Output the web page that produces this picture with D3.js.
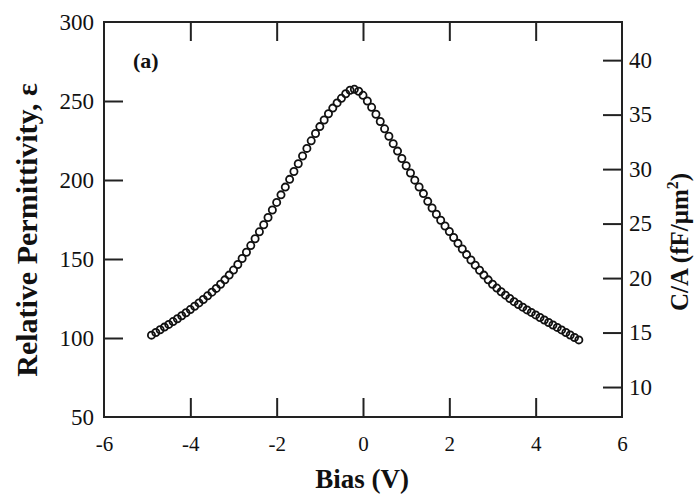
<!DOCTYPE html>
<html>
<head>
<meta charset="utf-8">
<script src="https://cdn.jsdelivr.net/npm/d3@7"></script>
<style>
  html, body { margin: 0; padding: 0; background: #fff; }
  svg { display: block; }
  .tick text { font-family: "Liberation Serif", "DejaVu Serif", serif; fill: #111; }
  .axisTitle { font-family: "Liberation Serif", "DejaVu Serif", serif; font-weight: bold; fill: #111; }
</style>
</head>
<body>
<svg id="chart" width="697" height="495"></svg>
<script>
// bias sweep (V)
const biasV = [
  -4.9, -4.8, -4.7, -4.6, -4.5, -4.4, -4.3, -4.2, -4.1, -4.0,
  -3.9, -3.8, -3.7, -3.6, -3.5, -3.4, -3.3, -3.2, -3.1, -3.0,
  -2.9, -2.8, -2.7, -2.6, -2.5, -2.4, -2.3, -2.2, -2.1, -2.0,
  -1.9, -1.8, -1.7, -1.6, -1.5, -1.4, -1.3, -1.2, -1.1, -1.0,
  -0.9, -0.8, -0.7, -0.6, -0.5, -0.4, -0.3, -0.2, -0.1, 0.0,
  0.1, 0.2, 0.3, 0.4, 0.5, 0.6, 0.7, 0.8, 0.9, 1.0,
  1.1, 1.2, 1.3, 1.4, 1.5, 1.6, 1.7, 1.8, 1.9, 2.0,
  2.1, 2.2, 2.3, 2.4, 2.5, 2.6, 2.7, 2.8, 2.9, 3.0,
  3.1, 3.2, 3.3, 3.4, 3.5, 3.6, 3.7, 3.8, 3.9, 4.0,
  4.1, 4.2, 4.3, 4.4, 4.5, 4.6, 4.7, 4.8, 4.9, 5.0
];
// relative permittivity
const permittivity = [
  101.8, 103.5, 105.2, 106.9, 108.6, 110.4, 112.2, 114.1, 116.0, 118.0,
  120.1, 122.2, 124.4, 126.7, 129.0, 131.4, 134.0, 136.8, 139.8, 143.0,
  146.5, 150.3, 154.3, 158.5, 162.8, 167.2, 171.7, 176.3, 181.0, 185.8,
  190.6, 195.5, 200.4, 205.4, 210.3, 215.2, 220.0, 224.8, 229.4, 233.8,
  238.0, 241.9, 245.5, 248.8, 251.7, 254.6, 256.8, 257.4, 256.2, 253.6,
  250.0, 246.0, 241.6, 237.0, 232.4, 227.7, 223.0, 218.3, 213.6, 209.0,
  204.4, 199.9, 195.6, 191.4, 186.5, 182.3, 178.3, 174.5, 170.9, 167.4,
  163.6, 159.9, 156.3, 152.8, 149.4, 146.1, 142.9, 139.8, 136.8, 134.0,
  131.6, 129.3, 127.1, 125.0, 123.0, 121.2, 119.5, 117.8, 116.2, 114.6,
  113.0, 111.4, 109.8, 108.2, 106.7, 105.1, 103.5, 101.9, 100.3, 98.8
];
const xTicks = [-6, -4, -2, 0, 2, 4, 6];
const yTicks = [50, 100, 150, 200, 250, 300];
const capTicks = [10, 15, 20, 25, 30, 35, 40];

const margin = { top: 22, right: 75, bottom: 78, left: 104 };
const svgWidth = 697;
const svgHeight = 495;
const width = svgWidth - margin.left - margin.right;
const height = svgHeight - margin.top - margin.bottom;

const svg = d3.select('#chart');
const g = svg.append('g').attr('transform', `translate(${margin.left}, ${margin.top})`);

const xScale = d3.scaleLinear().domain([-6, 6]).range([0, width]);
const yScale = d3.scaleLinear().domain([50, 300]).range([height, 0]);
// C/A axis on the right, same frame
const capScale = d3.scaleLinear().domain([7.25, 43.5]).range([height, 0]);

const tickLen = 19;
const plain = (d) => String(d); // keep the hyphen minus like the original
const styleAxis = (sel, size) => {
  sel.select('.domain').remove();
  sel.selectAll('.tick line').attr('stroke', '#222').attr('stroke-width', 2);
  sel.selectAll('.tick text').style('font-size', `${size}px`);
};

g.append('g')
  .attr('transform', `translate(0, ${height})`)
  .call(d3.axisBottom(xScale).tickValues(xTicks).tickSize(-tickLen).tickPadding(tickLen).tickFormat(plain))
  .call((s) => styleAxis(s, 21))
  .selectAll('.tick')
  .filter((d) => d === -6 || d === 6)
  .select('line')
  .remove();

g.append('g')
  .call(d3.axisTop(xScale).tickValues(xTicks.slice(1, -1)).tickSize(-tickLen).tickFormat(''))
  .call((s) => styleAxis(s, 20));

g.append('g')
  .call(d3.axisLeft(yScale).tickValues(yTicks).tickSize(-tickLen).tickPadding(10).tickFormat(plain))
  .call((s) => styleAxis(s, 23))
  .selectAll('.tick')
  .filter((d) => d === 50 || d === 300)
  .select('line')
  .remove();

g.append('g')
  .attr('transform', `translate(${width}, 0)`)
  .call(d3.axisRight(capScale).tickValues(capTicks).tickSize(-tickLen).tickPadding(7).tickFormat(plain))
  .call((s) => styleAxis(s, 23));

// frame
g.append('rect')
  .attr('width', width)
  .attr('height', height)
  .attr('fill', 'none')
  .attr('stroke', '#222')
  .attr('stroke-width', 2);

// data markers
g.append('g')
  .selectAll('circle')
  .data(biasV)
  .join('circle')
  .attr('cx', (d) => xScale(d))
  .attr('cy', (d, i) => yScale(permittivity[i]))
  .attr('r', 3.6)
  .attr('fill', 'none')
  .attr('stroke', '#111')
  .attr('stroke-width', 1.8);

g.append('text')
  .attr('class', 'axisTitle')
  .attr('x', 29)
  .attr('y', 46)
  .style('font-size', '22px')
  .text('(a)');

svg.append('text')
  .attr('class', 'axisTitle')
  .attr('x', 362)
  .attr('y', 488)
  .attr('text-anchor', 'middle')
  .style('font-size', '27px')
  .text('Bias (V)');

svg.append('text')
  .attr('class', 'axisTitle')
  .attr('transform', 'translate(37, 230) rotate(-90)')
  .attr('text-anchor', 'middle')
  .style('font-size', '30px')
  .text('Relative Permittivity, ε');

const capTitle = svg.append('text')
  .attr('class', 'axisTitle')
  .attr('transform', 'translate(688, 242) rotate(-90)')
  .attr('text-anchor', 'middle')
  .style('font-size', '25px');
capTitle.append('tspan').text('C/A (fF/μm');
capTitle.append('tspan').attr('dy', -10).style('font-size', '16px').text('2');
capTitle.append('tspan').attr('dy', 10).text(')');
</script>
</body>
</html>
